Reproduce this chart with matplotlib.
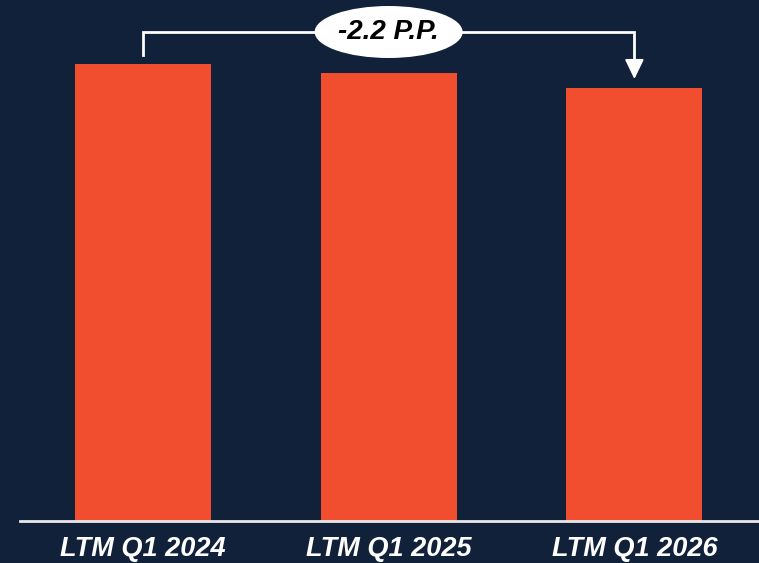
import matplotlib.pyplot as plt
from matplotlib.patches import Ellipse

# data
labels = ['LTM Q1 2024', 'LTM Q1 2025', 'LTM Q1 2026']
values = [41.8, 41.0, 39.6]
change_label = '-2.2 P.P.'

bg = '#12213a'
bar_col = '#f04e2f'
font = ['Liberation Sans', 'DejaVu Sans']

fig = plt.figure(figsize=(7.59, 5.63), dpi=100, facecolor=bg)
ax = fig.add_axes([20 / 759, 42 / 563, 739 / 759, 521 / 563])
ax.set_facecolor(bg)

x = range(len(values))
ax.bar(x, values, width=0.553, color=bar_col, zorder=2)
ax.axhline(0, color='#e8e8e8', lw=2, zorder=3, clip_on=False)

ax.set_xlim(-0.5, 2.507)
ymax = values[0] * 521 / 457
ax.set_ylim(0, ymax)
for s in ax.spines.values():
    s.set_visible(False)
ax.set_yticks([])
ax.set_xticks(list(x))
ax.set_xticklabels(labels, family=font, fontweight='bold', style='italic',
                   fontsize=19.5, color='white')
ax.tick_params(axis='x', length=0, pad=11)

# bracket annotation
px = ymax / 521  # data units per pixel
y_top = values[0] + 32 * px
ax.plot([0, 0, 2, 2], [values[0] + 9 * px, y_top, y_top, values[2] + 24 * px],
        color='white', lw=2, zorder=3, solid_joinstyle='miter')
ax.annotate('', xy=(2, values[2] + 9 * px), xytext=(2, values[2] + 27 * px),
            arrowprops=dict(arrowstyle='-|>,head_length=1.2,head_width=0.58',
                            color='white', lw=1.5, shrinkA=0, shrinkB=0), zorder=4)
ax.add_patch(Ellipse((1, y_top), 148 / 245.75, 52 * px, facecolor='white',
                     edgecolor='none', zorder=5, clip_on=False))
ax.text(1, y_top, change_label, ha='center', va='center', family=font,
        fontweight='bold', style='italic', fontsize=20, color='black', zorder=6)

fig.savefig('out.png', dpi=100, facecolor=bg)
plt.close(fig)
